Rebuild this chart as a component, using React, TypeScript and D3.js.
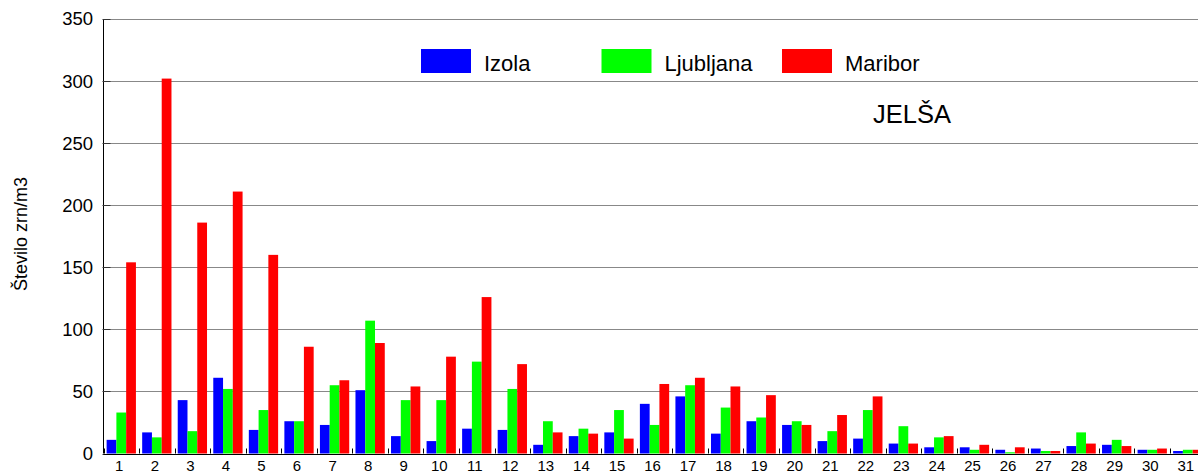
import React from "react";
import * as d3 from "d3";

const days = Array.from({ length: 31 }, (_, i) => String(i + 1));
const seriesNames = ["Izola", "Ljubljana", "Maribor"];
const seriesColors = ["#0000ff", "#00ff00", "#ff0000"];
const izola = [11, 17, 43, 61, 19, 26, 23, 51, 14, 10, 20, 19, 7, 14, 17, 40, 46, 16, 26, 23, 10, 12, 8, 5, 5, 3, 4, 6, 7, 3, 2];
const ljubljana = [33, 13, 18, 52, 35, 26, 55, 107, 43, 43, 74, 52, 26, 20, 35, 23, 55, 37, 29, 26, 18, 35, 22, 13, 3, 1, 2, 17, 11, 3, 3];
const maribor = [154, 302, 186, 211, 160, 86, 59, 89, 54, 78, 126, 72, 17, 16, 12, 56, 61, 54, 47, 23, 31, 46, 8, 14, 7, 5, 2, 8, 6, 4, 3];
const yTicks = [0, 50, 100, 150, 200, 250, 300, 350];
const title = "JELŠA";
const yTitle = "Število zrn/m3";

const W = 1198;
const H = 475;
const FONT = "'Liberation Sans', Arial, sans-serif";

export default function App() {
  const series = [izola, ljubljana, maribor];
  const x0 = 103.5;
  const band = 35.55;
  const x = d3.scaleBand<string>().domain(days).range([x0, x0 + band * days.length]).paddingInner(0).paddingOuter(0);
  const xs = d3.scaleBand<string>().domain(seriesNames).range([0, x.bandwidth()]).paddingInner(0).paddingOuter(0.32);
  const y = d3.scaleLinear().domain([0, 350]).range([453.5, 19]);

  return (
    <div style={{ position: "absolute", left: 0, top: 0 }}>
      <svg width={W} height={H} style={{ display: "block", background: "#fff" }} fontFamily={FONT}>
        {/* gridlines */}
        {yTicks.filter((t) => t > 0).map((t) => (
          <line key={"g" + t} x1={x0} x2={W} y1={Math.round(y(t)) + 0.5} y2={Math.round(y(t)) + 0.5} stroke="#888" strokeWidth={1} />
        ))}
        {/* bars */}
        {series.map((vals, si) =>
          vals.map((v, i) => (
            <rect
              key={si + "-" + i}
              x={(x(days[i]) as number) + (xs(seriesNames[si]) as number)}
              y={y(v)}
              width={xs.bandwidth()}
              height={y(0) - y(v)}
              fill={seriesColors[si]}
            />
          ))
        )}
        {/* y axis */}
        <line x1={x0} x2={x0} y1={y(350)} y2={y(0)} stroke="#000" strokeWidth={1} />
        {yTicks.map((t) => (
          <g key={"t" + t}>
            <line x1={x0 - 1} x2={x0 + 7} y1={Math.round(y(t)) + 0.5} y2={Math.round(y(t)) + 0.5} stroke="#333" strokeWidth={1} />
            <text x={93} y={y(t)} dy="0.35em" textAnchor="end" fontSize={18.5} fill="#000">
              {t}
            </text>
          </g>
        ))}
        {/* x axis */}
        <line x1={x0} x2={W} y1={Math.round(y(0)) + 0.5} y2={Math.round(y(0)) + 0.5} stroke="#000" strokeWidth={1} />
        {days.map((d, i) => (
          <g key={"x" + d}>
            <line
              x1={Math.round((x(d) as number)) + 0.5}
              x2={Math.round((x(d) as number)) + 0.5}
              y1={y(0) - 5}
              y2={y(0)}
              stroke="#000"
              strokeWidth={1}
            />
            <text x={(x(d) as number) + x.bandwidth() / 2 - 2} y={471} textAnchor="middle" fontSize={15} fill="#000">
              {d}
            </text>
          </g>
        ))}
        {/* y title */}
        <text transform={`translate(27,234) rotate(-90)`} textAnchor="middle" fontSize={18} fill="#000">
          {yTitle}
        </text>
        {/* legend */}
        {seriesNames.map((n, i) => (
          <g key={"l" + n} transform={`translate(${421 + i * 180.5},49)`}>
            <rect x={0} y={0} width={50} height={24} fill={seriesColors[i]} />
            <text x={63} y={22} fontSize={22} fill="#000">
              {n}
            </text>
          </g>
        ))}
        <text x={873} y={123} fontSize={25.5} fill="#000">
          {title}
        </text>
      </svg>
    </div>
  );
}
